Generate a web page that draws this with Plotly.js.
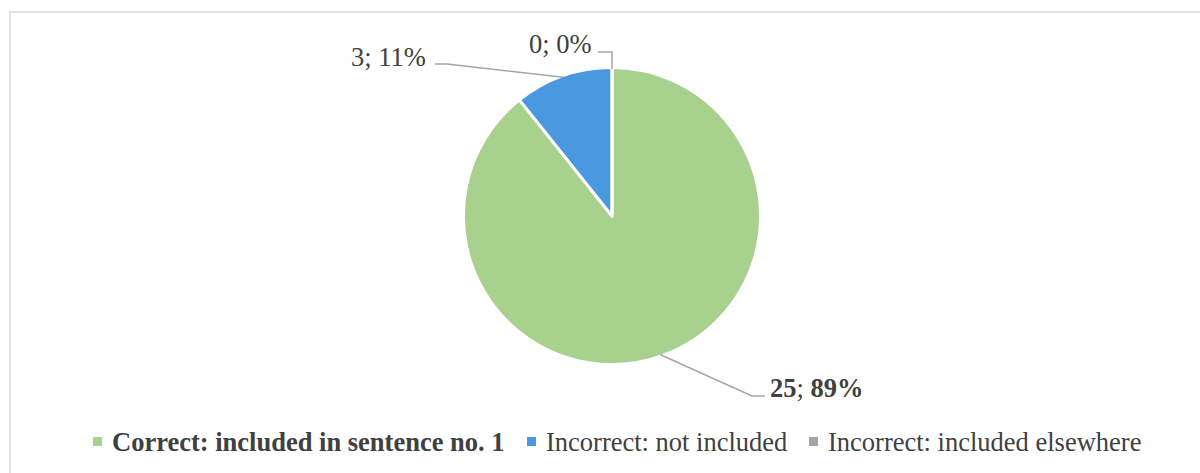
<!DOCTYPE html>
<html>
<head>
<meta charset="utf-8">
<script src="https://cdn.plot.ly/plotly-3.0.1.min.js"></script>
<style>html,body{margin:0;padding:0;background:#fff;}#chart{width:1200px;height:473px;}</style>
</head>
<body>
<div id="chart"></div>
<script>
// ---- data ----
const categories = ['Correct: included in sentence no. 1', 'Incorrect: not included', 'Incorrect: included elsewhere'];
const counts = [25, 3, 0];
const boldCategory = [true, false, false];

// ---- style / layout constants ----
const sliceColors = ['#A9D18E', '#4A99E0', '#A5A5A5'];
const W = 1200, H = 473;
const FONT = '"Liberation Serif", "Times New Roman", serif';
const FS = 26.5;
const TXT = '#404040';
const CX = 612, CY = 216, R = 147;           // pie centre & visible radius (px)
const LINE_W = 3;                             // white slice separator
// label placement (px): text anchor point, elbow point, line end point
const labelPlace = [
  {tx: 768, ty: 388, xanchor: 'left',  elbow: [752, 396], end: [765, 396]},
  {tx: 428, ty: 57,  xanchor: 'right', elbow: [447, 64],  end: [435, 64]},
  {tx: 594, ty: 44,  xanchor: 'right', elbow: [null, 52], end: [598, 52]}
];
const legendMarkX = [97.5, 531.5, 813.5];
const legendY = 441.5;

const px = x => x / W;
const py = y => 1 - y / H;

const total = counts.reduce((a, b) => a + b, 0);
const RD = R + LINE_W / 2;

const trace = {
  type: 'pie',
  labels: categories,
  values: counts,
  sort: false,
  direction: 'clockwise',
  rotation: 0,
  textinfo: 'none',
  hoverinfo: 'label+value+percent',
  showlegend: false,
  marker: {colors: sliceColors, line: {color: '#ffffff', width: LINE_W}},
  domain: {x: [px(CX - RD), px(CX + RD)], y: [py(CY + RD), py(CY - RD)]}
};

const shapes = [];
const annotations = [];

// chart border
shapes.push({type: 'rect', xref: 'paper', yref: 'paper', x0: px(10), x1: 1.02, y0: -0.05, y1: py(12),
  line: {color: '#D9D9D9', width: 1.5}, fillcolor: 'rgba(0,0,0,0)'});

// data labels with leader lines, anchored at each slice's mid-angle
let cum = 0;
counts.forEach((v, i) => {
  const frac = v / total;
  const mid = (cum + frac / 2) * 2 * Math.PI;
  cum += frac;
  const ax = CX + R * Math.sin(mid);
  const ay = CY - R * Math.cos(mid);
  const p = labelPlace[i];
  const ex = p.elbow[0] === null ? ax : p.elbow[0];
  const ey = p.elbow[1];
  shapes.push({type: 'path', xref: 'paper', yref: 'paper',
    path: `M${px(ax)},${py(ay)} L${px(ex)},${py(ey)} L${px(p.end[0])},${py(p.end[1])}`,
    line: {color: '#A6A6A6', width: 1.5}});
  const pct = Math.round(frac * 100);
  const text = boldCategory[i] ? `<b>${v}</b>; <b>${pct}%</b>` : `${v}; ${pct}%`;
  annotations.push({xref: 'paper', yref: 'paper', x: px(p.tx), y: py(p.ty), xanchor: p.xanchor, yanchor: 'middle',
    text: text, showarrow: false, font: {family: FONT, size: FS, color: TXT}});
});

// legend
categories.forEach((c, i) => {
  const mx = legendMarkX[i];
  shapes.push({type: 'rect', xref: 'paper', yref: 'paper',
    x0: px(mx - 4.5), x1: px(mx + 4.5), y0: py(legendY + 4.5), y1: py(legendY - 4.5),
    fillcolor: sliceColors[i], line: {width: 0}});
  annotations.push({xref: 'paper', yref: 'paper', x: px(mx + 12.5), y: py(legendY), xanchor: 'left', yanchor: 'middle',
    text: boldCategory[i] ? `<b>${c}</b>` : c, showarrow: false, font: {family: FONT, size: FS, color: TXT}});
});

const layout = {
  width: W, height: H,
  margin: {l: 0, r: 0, t: 0, b: 0},
  paper_bgcolor: '#ffffff',
  showlegend: false,
  shapes: shapes,
  annotations: annotations
};

Plotly.newPlot('chart', [trace], layout, {displayModeBar: false, staticPlot: true});
</script>
</body>
</html>
